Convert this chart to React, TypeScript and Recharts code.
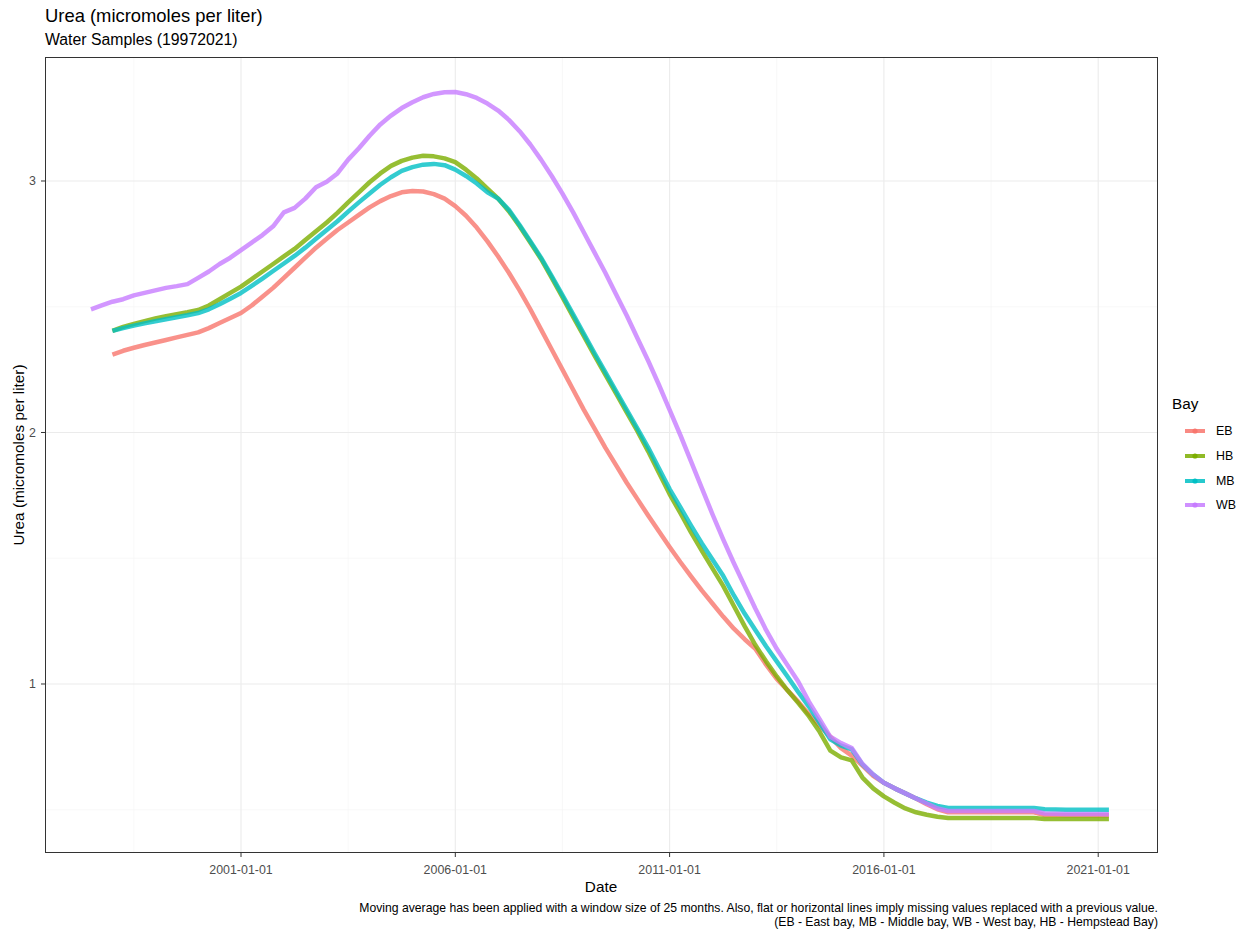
import React from 'react';
import { LineChart, Line, XAxis, YAxis, ReferenceLine } from 'recharts';

// quarterly sample dates (decimal years)
const dates = [
  1997.5, 1997.75,
  1998, 1998.25, 1998.5, 1998.75,
  1999, 1999.25, 1999.5, 1999.75,
  2000, 2000.25, 2000.5, 2000.75,
  2001, 2001.25, 2001.5, 2001.75,
  2002, 2002.25, 2002.5, 2002.75,
  2003, 2003.25, 2003.5, 2003.75,
  2004, 2004.25, 2004.5, 2004.75,
  2005, 2005.25, 2005.5, 2005.75,
  2006, 2006.25, 2006.5, 2006.75,
  2007, 2007.25, 2007.5, 2007.75,
  2008, 2008.25, 2008.5, 2008.75,
  2009, 2009.25, 2009.5, 2009.75,
  2010, 2010.25, 2010.5, 2010.75,
  2011, 2011.25, 2011.5, 2011.75,
  2012, 2012.25, 2012.5, 2012.75,
  2013, 2013.25, 2013.5, 2013.75,
  2014, 2014.25, 2014.5, 2014.75,
  2015, 2015.25, 2015.5, 2015.75,
  2016, 2016.25, 2016.5, 2016.75,
  2017, 2017.25, 2017.5, 2017.75,
  2018, 2018.25, 2018.5, 2018.75,
  2019, 2019.25, 2019.5, 2019.75,
  2020, 2020.25, 2020.5, 2020.75,
  2021, 2021.25,
];

const ebValues = [
  null, null,
  2.31, 2.325, 2.337, 2.348,
  2.358, 2.368, 2.378, 2.388,
  2.398, 2.415, 2.435, 2.455,
  2.475, 2.505, 2.54, 2.575,
  2.615, 2.655, 2.695, 2.735,
  2.77, 2.805, 2.835, 2.865,
  2.895, 2.92, 2.94, 2.955,
  2.96, 2.958, 2.948, 2.93,
  2.9, 2.862, 2.815, 2.76,
  2.7, 2.635, 2.565, 2.49,
  2.41, 2.33, 2.25, 2.17,
  2.09, 2.015, 1.94, 1.87,
  1.8, 1.735, 1.67, 1.607,
  1.545, 1.485, 1.428, 1.372,
  1.32, 1.268, 1.22, 1.178,
  1.14, 1.077, 1.02, 0.975,
  0.93, 0.88, 0.835, 0.79,
  0.745, 0.715, 0.675, 0.635,
  0.607, 0.585, 0.565, 0.545,
  0.522, 0.502, 0.49, 0.49,
  0.49, 0.49, 0.49, 0.49,
  0.49, 0.49, 0.49, 0.479,
  0.479, 0.478, 0.478, 0.478,
  0.478, 0.478,
];

const hbValues = [
  null, null,
  2.404, 2.42, 2.432, 2.443,
  2.453, 2.462, 2.47, 2.478,
  2.487, 2.505, 2.53, 2.555,
  2.58, 2.61, 2.64, 2.67,
  2.7, 2.73, 2.765, 2.8,
  2.835, 2.873, 2.915, 2.955,
  2.995, 3.03, 3.06, 3.08,
  3.093, 3.1, 3.098, 3.09,
  3.075, 3.045, 3.01, 2.97,
  2.93, 2.88, 2.82, 2.755,
  2.69, 2.615, 2.538, 2.46,
  2.383, 2.305, 2.23, 2.155,
  2.08, 2.005, 1.925, 1.84,
  1.755, 1.68, 1.603, 1.53,
  1.46, 1.39, 1.31, 1.23,
  1.155, 1.09, 1.03, 0.975,
  0.925, 0.872, 0.81, 0.735,
  0.708, 0.696, 0.628, 0.585,
  0.553, 0.528, 0.505, 0.49,
  0.48, 0.472, 0.467, 0.467,
  0.467, 0.467, 0.467, 0.467,
  0.467, 0.467, 0.467, 0.463,
  0.463, 0.463, 0.463, 0.463,
  0.463, 0.463,
];

const mbValues = [
  null, null,
  2.404, 2.415, 2.425, 2.434,
  2.442, 2.45, 2.458, 2.466,
  2.475, 2.49, 2.51, 2.532,
  2.555, 2.583, 2.612, 2.642,
  2.672, 2.702, 2.735, 2.77,
  2.805, 2.84, 2.878, 2.915,
  2.95, 2.985, 3.015, 3.04,
  3.055, 3.065, 3.068, 3.063,
  3.045, 3.02, 2.99, 2.955,
  2.93, 2.885, 2.825, 2.76,
  2.695, 2.622, 2.546, 2.47,
  2.392, 2.315, 2.24, 2.165,
  2.09, 2.015, 1.94, 1.858,
  1.775, 1.703, 1.63, 1.56,
  1.495, 1.43, 1.352, 1.28,
  1.215, 1.15, 1.09, 1.03,
  0.968, 0.91, 0.845, 0.78,
  0.755, 0.74, 0.68, 0.64,
  0.607, 0.585, 0.565, 0.545,
  0.528, 0.515, 0.507, 0.507,
  0.507, 0.507, 0.507, 0.507,
  0.507, 0.507, 0.507, 0.502,
  0.501, 0.5, 0.5, 0.5,
  0.5, 0.5,
];

const wbValues = [
  2.49, 2.505,
  2.52, 2.53, 2.545, 2.555,
  2.565, 2.575, 2.582, 2.59,
  2.615, 2.64, 2.67, 2.695,
  2.725, 2.755, 2.785, 2.82,
  2.875, 2.893, 2.93, 2.975,
  2.997, 3.03, 3.085, 3.13,
  3.18, 3.225, 3.26, 3.29,
  3.313, 3.333, 3.346, 3.353,
  3.354, 3.345, 3.33, 3.308,
  3.28, 3.243, 3.198, 3.145,
  3.085, 3.02, 2.95, 2.875,
  2.795, 2.715, 2.635, 2.55,
  2.465, 2.375, 2.285, 2.19,
  2.09, 1.99, 1.885, 1.78,
  1.675, 1.575, 1.48, 1.39,
  1.3, 1.215, 1.14, 1.075,
  1.01, 0.93, 0.86, 0.79,
  0.765, 0.745, 0.682, 0.64,
  0.607, 0.585, 0.565, 0.545,
  0.525, 0.505, 0.495, 0.495,
  0.495, 0.495, 0.495, 0.495,
  0.495, 0.495, 0.495, 0.485,
  0.484, 0.483, 0.483, 0.483,
  0.483, 0.482,
];

const bays = ['EB', 'HB', 'MB', 'WB'];
const bayColors = ['#F8766D', '#7CAE00', '#00BFC4', '#C77CFF'];
const seriesValues = [ebValues, hbValues, mbValues, wbValues];

const xTicks = [2001, 2006, 2011, 2016, 2021];
const xMinor = [1998.5, 2003.5, 2008.5, 2013.5, 2018.5];
const yTicks = [1, 2, 3];
const yMinor = [0.5, 1.5, 2.5];

const chartData = dates.map((t, i) => {
  const row: any = { t };
  bays.forEach((b, k) => {
    row[b] = seriesValues[k][i];
  });
  return row;
});

const FONT = '"Liberation Sans", Arial, sans-serif';

export default function App() {
  return (
    <div style={{ position: 'absolute', left: 0, top: 0, width: 1247, height: 936, background: '#fff', fontFamily: FONT }}>
      <LineChart
        width={1247}
        height={936}
        data={chartData}
        margin={{ top: 57, right: 89, bottom: 53, left: 15 }}
      >
        <XAxis
          type="number"
          dataKey="t"
          domain={[1996.427, 2022.395]}
          ticks={xTicks}
          allowDataOverflow
          tickFormatter={(v) => `${v}-01-01`}
          axisLine={false}
          stroke="#4D4D4D"
          tickLine={{ stroke: '#333333' }}
          tickSize={4}
          tickMargin={8}
          height={30}
          tick={{ fontSize: 12.4, fill: '#4D4D4D', fontFamily: FONT }}
        />
        <YAxis
          type="number"
          domain={[0.328, 3.493]}
          ticks={yTicks}
          allowDataOverflow
          axisLine={false}
          stroke="#4D4D4D"
          tickLine={{ stroke: '#333333' }}
          tickSize={4}
          tickMargin={5}
          width={30}
          tick={{ fontSize: 12.4, fill: '#4D4D4D', fontFamily: FONT }}
        />
        {yMinor.map((v) => (
          <ReferenceLine key={'ym' + v} y={v} stroke="#F3F3F3" strokeWidth={0.6} />
        ))}
        {xMinor.map((v) => (
          <ReferenceLine key={'xm' + v} x={v} stroke="#F3F3F3" strokeWidth={0.6} />
        ))}
        {yTicks.map((v) => (
          <ReferenceLine key={'y' + v} y={v} stroke="#EBEBEB" strokeWidth={1.1} />
        ))}
        {xTicks.map((v) => (
          <ReferenceLine key={'x' + v} x={v} stroke="#EBEBEB" strokeWidth={1.1} />
        ))}
        {bays.map((b, k) => (
          <Line
            key={b}
            type="linear"
            dataKey={b}
            stroke={bayColors[k]}
            strokeWidth={4.5}
            strokeOpacity={0.8}
            strokeLinejoin="round"
            dot={false}
            activeDot={false}
            isAnimationActive={false}
          />
        ))}
      </LineChart>

      {/* panel border */}
      <div style={{ position: 'absolute', left: 45, top: 57, width: 1113, height: 796, border: '1px solid #333333', boxSizing: 'border-box', pointerEvents: 'none' }} />

      {/* titles */}
      <div style={{ position: 'absolute', left: 45, top: 7, fontSize: 18.4, lineHeight: '18.4px', color: '#000', whiteSpace: 'nowrap' }}>
        Urea (micromoles per liter)
      </div>
      <div style={{ position: 'absolute', left: 45, top: 32, fontSize: 15.8, lineHeight: '15.8px', color: '#000', whiteSpace: 'nowrap' }}>
        Water Samples (19972021)
      </div>

      {/* axis titles */}
      <div style={{ position: 'absolute', left: 601, top: 879, transform: 'translateX(-50%)', fontSize: 15.3, lineHeight: '15.3px', color: '#000' }}>
        Date
      </div>
      <div style={{ position: 'absolute', left: 19, top: 455, transform: 'translate(-50%, -50%) rotate(-90deg)', fontSize: 15.3, color: '#000', whiteSpace: 'nowrap' }}>
        Urea (micromoles per liter)
      </div>

      {/* caption */}
      <div style={{ position: 'absolute', right: 1247 - 1158, top: 901, fontSize: 12.2, lineHeight: '14px', color: '#000', textAlign: 'right', whiteSpace: 'nowrap' }}>
        <div>Moving average has been applied with a window size of 25 months. Also, flat or horizontal lines imply missing values replaced with a previous value.</div>
        <div>(EB - East bay, MB - Middle bay, WB - West bay, HB - Hempstead Bay)</div>
      </div>

      {/* legend */}
      <div style={{ position: 'absolute', left: 1172, top: 395, fontSize: 15.3, color: '#000' }}>Bay</div>
      {bays.map((b, k) => (
        <div key={b} style={{ position: 'absolute', left: 1183, top: 420 + k * 24.8, height: 22, display: 'flex', alignItems: 'center' }}>
          <svg width={24} height={22}>
            <line x1={2} y1={11} x2={22} y2={11} stroke={bayColors[k]} strokeWidth={4} strokeOpacity={0.85} />
            <circle cx={12} cy={11} r={2.6} fill={bayColors[k]} />
          </svg>
          <span style={{ marginLeft: 9, fontSize: 12.4, color: '#000' }}>{b}</span>
        </div>
      ))}
    </div>
  );
}
